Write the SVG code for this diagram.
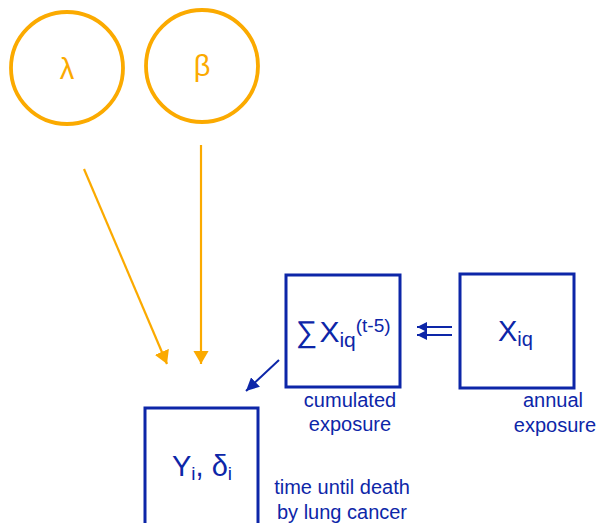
<svg xmlns="http://www.w3.org/2000/svg" width="601" height="523" viewBox="0 0 601 523">
<style>
.o{fill:none;stroke:#FBAA00;stroke-width:3.8}
.b{fill:none;stroke:#0D26A8;stroke-width:3}
.ot{fill:#FBAA00;font-family:"Liberation Sans","DejaVu Sans",sans-serif;font-size:29px;text-anchor:middle}
.bt{fill:#0D26A8;font-family:"Liberation Sans",sans-serif}
.lab{fill:#0D26A8;font-family:"Liberation Sans",sans-serif;font-size:20px;text-anchor:middle}
.ol{stroke:#FBAA00;stroke-width:2.2;fill:none}
.bl{stroke:#0D26A8;stroke-width:2;fill:none}
</style>
<defs>
<marker id="ao" viewBox="0 0 12 14" refX="12" refY="7" markerWidth="6" markerHeight="7" orient="auto" markerUnits="strokeWidth"><path d="M0,0 L12,7 L0,14 z" fill="#FBAA00"/></marker>
<marker id="ab" viewBox="0 0 10 10" refX="10" refY="5" markerWidth="6.5" markerHeight="6.5" orient="auto" markerUnits="strokeWidth"><path d="M0,0 L10,5 L0,10 z" fill="#0D26A8"/></marker>
<marker id="as" viewBox="0 0 10 10" refX="10" refY="5" markerWidth="5" markerHeight="5" orient="auto" markerUnits="strokeWidth"><path d="M0,0 L10,5 L0,10 z" fill="#0D26A8"/></marker>
</defs>
<g id="lambda">
<circle class="o" cx="67" cy="68" r="56"/>
<text class="ot" x="67" y="79">λ</text>
</g>
<g id="beta">
<circle class="o" cx="202" cy="66" r="56"/>
<text class="ot" x="202" y="76">β</text>
</g>
<g id="Y">
<rect class="b" x="145" y="408" width="113" height="120"/>
<text class="bt" x="172" y="476" font-size="29">Y<tspan font-size="19" dy="4">i</tspan><tspan font-size="29" dy="-4">, δ</tspan><tspan font-size="19" dy="4">i</tspan></text>
<text class="lab" x="342" y="494">time until death</text>
<text class="lab" x="342" y="519">by lung cancer</text>
</g>
<g id="sum">
<rect class="b" x="286" y="275" width="114" height="112"/>
<text class="bt" x="296" y="342" font-size="30">∑<tspan dx="2">X</tspan><tspan font-size="21" dy="5">iq</tspan><tspan font-size="19" dy="-15">(t-5)</tspan></text>
<text class="lab" x="350" y="407">cumulated</text>
<text class="lab" x="350" y="431">exposure</text>
</g>
<g id="X">
<rect class="b" x="460" y="274" width="114" height="114"/>
<text class="bt" x="498" y="341" font-size="29">X<tspan font-size="20" dy="5">iq</tspan></text>
<text class="lab" x="553" y="407">annual</text>
<text class="lab" x="555" y="432">exposure</text>
</g>
<g id="connectors">
<line class="ol" x1="84" y1="169" x2="167" y2="364" marker-end="url(#ao)"/>
<line class="ol" x1="201" y1="145" x2="201" y2="364" marker-end="url(#ao)"/>
<line class="bl" x1="279" y1="360" x2="246" y2="391" marker-end="url(#ab)"/>
<line class="bl" x1="452" y1="327" x2="417" y2="327" stroke-width="1.6" marker-end="url(#as)"/>
<line class="bl" x1="452" y1="335" x2="417" y2="335" stroke-width="1.6" marker-end="url(#as)"/>
</g>
</svg>
